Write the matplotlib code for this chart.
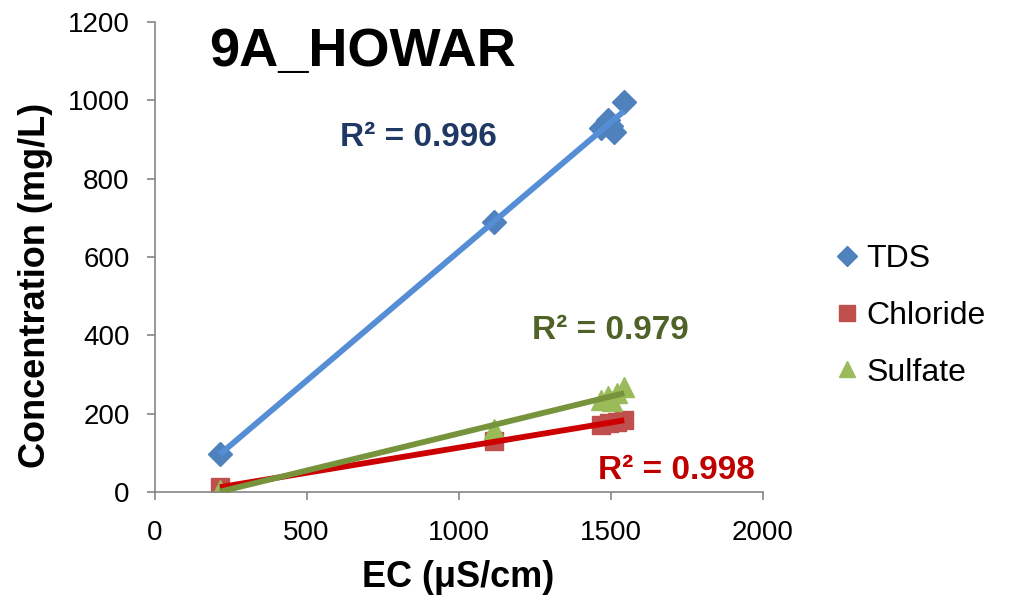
import matplotlib.pyplot as plt
import numpy as np

plt.rcParams['font.family'] = ['Liberation Sans', 'DejaVu Sans']

# data
tds_ec = [215, 1115, 1470, 1490, 1500, 1512, 1545]
tds = [97, 688, 928, 950, 935, 918, 995]
cl_ec = [215, 1115, 1470, 1495, 1520, 1545]
cl = [12, 130, 172, 176, 180, 184]
so4_ec = [215, 1115, 1470, 1490, 1505, 1520, 1545]
so4 = [5, 160, 235, 245, 232, 252, 268]
r2_labels = ["R² = 0.996", "R² = 0.998", "R² = 0.979"]

fig = plt.figure(figsize=(10.1, 6.06), dpi=100)
ax = fig.add_axes([0.153, 0.188, 0.602, 0.776])

ax.plot(tds_ec, tds, 'D', color='#4F81BD', ms=12, label='TDS', zorder=2)
ax.plot(cl_ec, cl, 's', color='#C0504D', ms=13, label='Chloride', zorder=2)
ax.plot(so4_ec, so4, '^', color='#9BBB59', ms=14, label='Sulfate', zorder=2)

# linear trendlines
for xs, ys, c in [(tds_ec, tds, '#558ED5'), (cl_ec, cl, '#CC0000'), (so4_ec, so4, '#77933C')]:
    k, b = np.polyfit(xs, ys, 1)
    xx = np.array([min(xs), max(xs)])
    ax.plot(xx, k * xx + b, color=c, lw=4.2, solid_capstyle='butt', zorder=3)

ax.set_xlim(0, 2000)
ax.set_ylim(0, 1200)
ax.set_xticks(np.arange(0, 2001, 500))
ax.set_yticks(np.arange(0, 1201, 200))
for s in ['top', 'right']:
    ax.spines[s].set_visible(False)
for s in ['left', 'bottom']:
    ax.spines[s].set_color('#868686')
    ax.spines[s].set_linewidth(1.2)
ax.tick_params(labelsize=20, length=6, width=1.2, color='#868686', direction='out')
ax.tick_params(axis='y', pad=12)
ax.tick_params(axis='x', pad=14)

ax.set_xlabel('EC (μS/cm)', fontsize=26, fontweight='bold', labelpad=10)
ax.set_ylabel('Concentration (mg/L)', fontsize=26, fontweight='bold')
ax.yaxis.set_label_coords(-0.167, 0.44)

ax.text(0.09, 0.935, '9A_HOWAR', transform=ax.transAxes, fontsize=39, fontweight='bold', va='center')
ax.text(868, 904, r2_labels[0], fontsize=24, fontweight='bold', color='#1F3864', ha='center', va='center')
ax.text(1717, 56, r2_labels[1], fontsize=24, fontweight='bold', color='#C00000', ha='center', va='center')
ax.text(1500, 413, r2_labels[2], fontsize=24, fontweight='bold', color='#4F6228', ha='center', va='center')

leg = ax.legend(loc='center left', bbox_to_anchor=(1.097, 0.375), frameon=False, fontsize=23,
                handlelength=0.6, handletextpad=0.3, labelspacing=0.84, markerscale=0.85, borderpad=0)

fig.savefig('out.png', dpi=100)
